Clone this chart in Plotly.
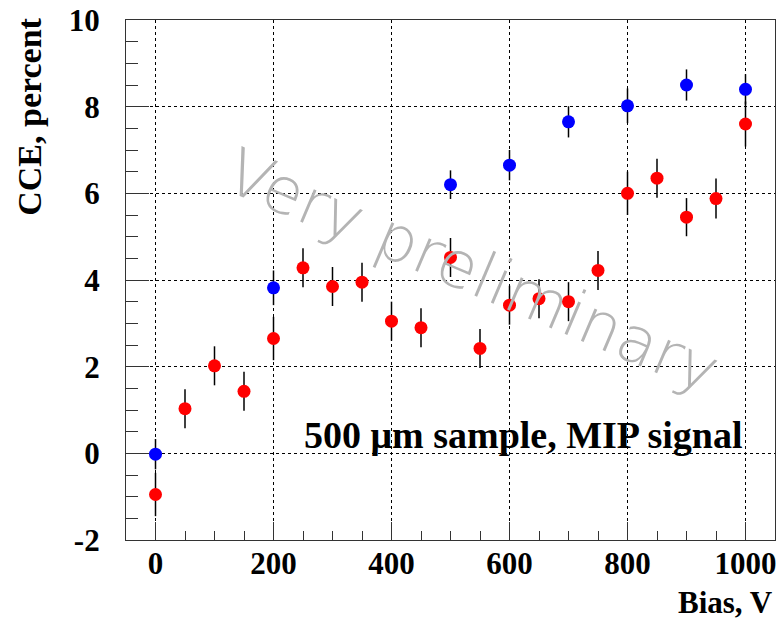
import plotly.graph_objects as go

# Data
red_bias = [0, 50, 100, 150, 200, 250, 300, 350, 400, 450, 500, 550, 600, 650, 700, 750, 800, 850, 900, 950, 1000]
red_cce = [-0.95, 1.03, 2.02, 1.43, 2.65, 4.28, 3.85, 3.95, 3.05, 2.9, 4.52, 2.42, 3.42, 3.57, 3.5, 4.22, 6.0, 6.35, 5.45, 5.88, 7.6]
red_err = [0.5, 0.45, 0.45, 0.45, 0.5, 0.45, 0.45, 0.45, 0.45, 0.45, 0.45, 0.45, 0.45, 0.45, 0.45, 0.45, 0.5, 0.45, 0.44, 0.46, 0.52]

blue_bias = [0, 200, 500, 600, 700, 800, 900, 1000]
blue_cce = [-0.02, 3.82, 6.2, 6.65, 7.65, 8.02, 8.5, 8.4]
blue_err = [0.35, 0.4, 0.33, 0.35, 0.36, 0.4, 0.36, 0.35]

x_ticks = [0, 200, 400, 600, 800, 1000]
y_ticks = [-2, 0, 2, 4, 6, 8, 10]

serif = "Liberation Serif"

fig = go.Figure()
for xs, ys, es, col in [(red_bias, red_cce, red_err, "#ff0000"), (blue_bias, blue_cce, blue_err, "#0000ff")]:
    fig.add_trace(go.Scatter(
        x=xs, y=ys, mode="markers",
        marker=dict(color=col, size=13, line=dict(width=0)),
        error_y=dict(type="data", array=es, visible=True, color="black", thickness=1.5, width=0),
        showlegend=False, cliponaxis=False,
    ))

axis_common = dict(
    showline=True, linecolor="#333333", linewidth=1.2, mirror=True,
    ticks="inside", tickcolor="#333333", tickwidth=1.2,
    showgrid=True, gridcolor="black", gridwidth=1, griddash="3px,3px",
    zeroline=False, automargin=False, ticklabeloverflow="allow",
    tickfont=dict(family=serif, size=31, color="black", weight="bold"),
)

fig.update_xaxes(
    range=[-50, 1050], tickvals=x_ticks, ticktext=[str(v) for v in x_ticks], ticklen=18,
    minor=dict(dtick=50, tick0=0, ticklen=9, ticks="inside", tickcolor="#333333", tickwidth=1.2, showgrid=False),
    ticklabelstandoff=-4,
    **axis_common,
)
fig.update_yaxes(
    range=[-2.0001, 10.0001], tickvals=y_ticks, ticktext=[str(v) for v in y_ticks], ticklen=23,
    minor=dict(dtick=0.5, tick0=0, ticklen=12, ticks="inside", tickcolor="#333333", tickwidth=1.2, showgrid=False),
    ticklabelstandoff=19,
    **axis_common,
)

fig.add_annotation(
    text="CCE, percent", textangle=-90, xref="paper", yref="paper",
    x=-0.148, y=1.008, xanchor="center", yanchor="top", showarrow=False,
    font=dict(family=serif, size=34, color="black", weight="bold"),
)
fig.add_annotation(
    text="Bias, V", xref="paper", yref="paper",
    x=1.0, y=-0.121, xanchor="right", yanchor="middle", showarrow=False,
    font=dict(family=serif, size=31, color="black", weight="bold"),
)
fig.add_annotation(
    text="500 \u03bcm sample, MIP signal", xref="x", yref="y",
    x=248, y=0.42, xanchor="left", yanchor="middle", showarrow=False,
    font=dict(family=serif, size=38, color="black", weight="bold"),
)
fig.add_annotation(
    text="Very preliminary", xref="paper", yref="paper",
    x=0.534, y=0.517, xanchor="center", yanchor="middle", showarrow=False,
    textangle=23,
    font=dict(family="DejaVu Sans", size=64, color="#b4b4b4", weight=200),
)

# plot frame at x 126..775, y 20..540 of the 783x620 window (page body margin removed below)
fig.update_layout(
    width=783, height=620,
    margin=dict(l=126, r=8, t=20, b=80),
    paper_bgcolor="white", plot_bgcolor="white",
)

fig.write_html("out.html", config={"displayModeBar": False},
               post_script="document.body.style.margin='0';")
